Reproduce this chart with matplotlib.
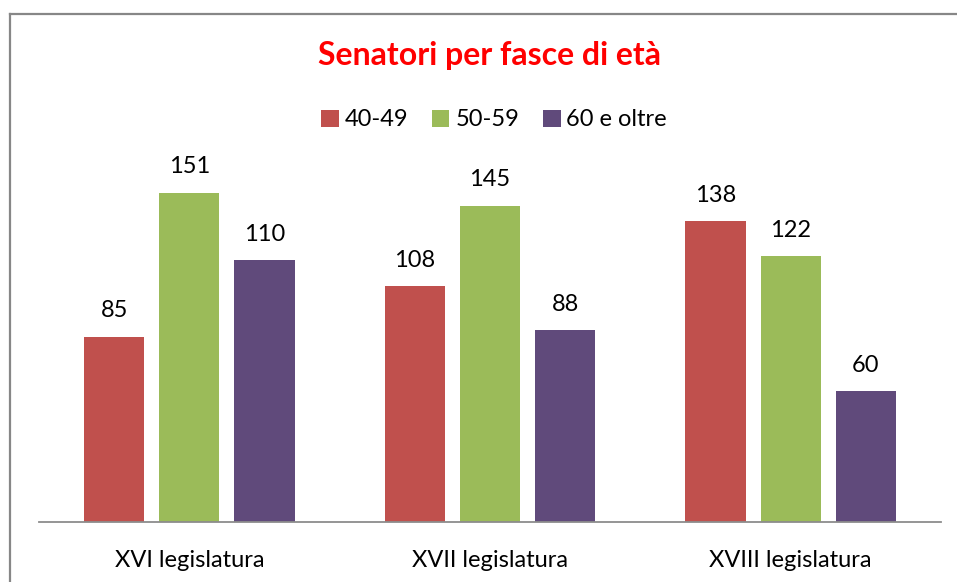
import numpy as np
import matplotlib.pyplot as plt
from matplotlib.lines import Line2D

plt.rcParams['font.family'] = ['Lato', 'DejaVu Sans']

legislature = ["XVI legislatura", "XVII legislatura", "XVIII legislatura"]
fasce = ["40-49", "50-59", "60 e oltre"]
v_40_49 = [85, 108, 138]
v_50_59 = [151, 145, 122]
# nel grafico originale la barra "110" e' disegnata all'altezza di circa 120
v_60_oltre = [120, 88, 60]
etichette_60_oltre = ["110", "88", "60"]
colori = ["#C0504D", "#9BBB59", "#604A7B"]

W, H = 957, 582
fig = plt.figure(figsize=(W / 100, H / 100), dpi=100)
ax = fig.add_axes([39 / W, (H - 522) / H, (941 - 39) / W, (522 - 173) / H])

x = np.arange(len(legislature))
width = 0.2
offsets = [-0.25, 0, 0.25]
series = [v_40_49, v_50_59, v_60_oltre]
etichette = [None, None, etichette_60_oltre]
for serie, off, col, lab, et in zip(series, offsets, colori, fasce, etichette):
    bars = ax.bar(x + off, serie, width, color=col, label=lab)
    ax.bar_label(bars, labels=et, padding=11, fontsize=17, color="black")

ax.set_xlim(-0.5, 2.5)
ax.set_ylim(0, 160)
ax.set_yticks([])
ax.set_xticks(x)
ax.set_xticklabels(legislature, fontsize=17)
ax.tick_params(axis="x", length=0, pad=20)
for s in ["top", "right", "left"]:
    ax.spines[s].set_visible(False)
ax.spines["bottom"].set_color("#8C8C8C")
ax.spines["bottom"].set_linewidth(1.3)

fig.text(490 / W, 1 - 56 / H, "Senatori per fasce di età", color="#FF0000",
         fontsize=23, fontweight="bold", ha="center", va="center")

fig.legend(loc="center", bbox_to_anchor=(494 / W, 1 - 120 / H), ncol=3,
           frameon=False, fontsize=17, handlelength=0.75, handleheight=0.75,
           handletextpad=0.25, columnspacing=1.0, borderpad=0)

# cornice del grafico (solo lati superiore e sinistro visibili)
fig.add_artist(Line2D([9.5 / W, 9.5 / W], [0, 1 - 13.5 / H], color="#878787", lw=1.6,
                      transform=fig.transFigure))
fig.add_artist(Line2D([9.5 / W, 1], [1 - 13.5 / H, 1 - 13.5 / H], color="#878787", lw=1.6,
                      transform=fig.transFigure))

fig.savefig("out.png", dpi=100)
